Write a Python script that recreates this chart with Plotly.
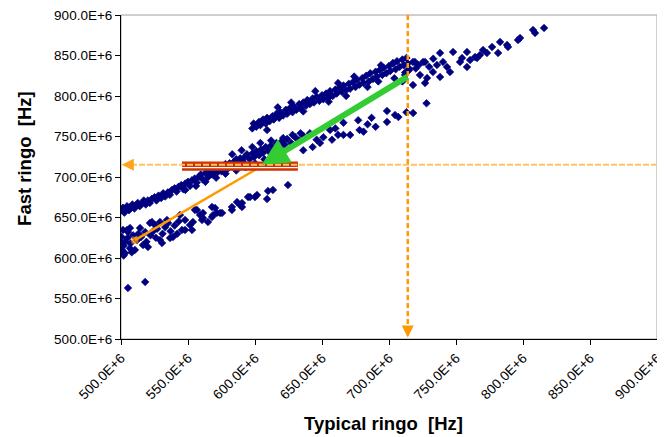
import numpy as np
import plotly.graph_objects as go

# ---------------- data (MHz) ----------------
typical_band_a = [500.5, 501.5, 502.5, 503.5, 504.5, 506, 507, 508.5, 510, 511, 512.5, 514, 515.5, 517, 518.5,
                  520, 521.5, 523, 525, 526.5, 528, 530, 531.5, 533, 535, 536.5, 538, 540, 541.5, 543, 545,
                  546.5, 548, 550, 551.5, 553, 555, 556.5, 558, 559.5, 561, 563, 565, 566.5, 568, 570, 571.5,
                  573, 575, 576.5, 578, 579.5, 581, 583, 584.5, 586, 587.5, 589, 591, 592.5, 594, 596, 598,
                  599.5, 601, 603, 604.5, 606, 608, 610, 612, 614, 616, 618, 620, 622, 624, 627, 630, 633, 636,
                  548, 556, 563, 571, 578, 586, 593, 600, 607, 615,
                  583, 590, 598, 604, 612, 621, 628, 634,
                  636, 641, 643, 646, 648.5, 651, 656, 657.5, 660, 662, 666, 666, 671, 677, 678, 681, 684, 687,
                  690, 698.5, 698.5, 704.5, 707, 713, 718, 728]
fast_band_a = [659, 662, 656, 661, 664, 659, 663, 666, 661, 665, 668, 664, 667, 671, 666,
               671, 668, 673, 675, 671, 677, 674, 680, 676, 681, 678, 684, 686, 682, 688, 690,
               685, 692, 694, 689, 696, 698, 693, 700, 703, 697, 705, 700, 707, 703, 709, 705,
               711, 707, 713, 716, 710, 717, 713, 719, 722, 716, 723, 719, 725, 728, 722, 729,
               725, 732, 727, 734, 730, 737, 732, 739, 735, 742, 737, 744, 740, 747, 742, 749, 745, 751,
               684, 689, 694, 699, 704, 708, 712, 717, 722, 728,
               728, 733, 737, 742, 745, 748, 752, 754,
               733, 754, 737, 746, 742, 749, 758, 746, 760, 752, 752, 767, 752, 770, 758, 756, 765, 773,
               762, 768, 781.5, 776.5, 774, 780, 779, 791]

typical_band_b = [598, 599, 601, 603, 604, 606, 608, 609, 611, 613, 614, 616, 618, 619, 621, 623, 624, 626,
                  628, 629, 631, 633, 634, 636, 638, 639, 641, 643, 644, 646, 648, 650, 651, 653, 655, 656,
                  658, 660, 661, 663, 665, 666, 668, 670, 671, 673, 675, 676, 678, 680, 681, 683, 685, 686,
                  688, 690, 691, 693, 695, 696, 698, 700, 701, 703, 705, 706, 708, 710, 711, 713, 715,
                  617, 627, 645, 655, 662, 674, 684, 694, 704, 712, 609, 636, 668, 692,
                  712, 715, 720, 730, 733, 722, 710, 714,
                  717.9, 719.4, 723.1, 725.4, 726.9, 726.9, 728.4, 703, 717.9, 732.8, 735.8, 738.1, 738.1,
                  740.3, 743.3, 745.5, 747.8, 753, 754.5, 758.2, 758.2, 760.5, 764.2, 765.7, 767.9, 770.2,
                  773.1, 776.9, 781.4, 782.9, 788.1, 788.8, 796.3, 797.8, 807.5, 809, 815.7]
fast_band_b = [760, 766, 762, 768, 764, 771, 766, 773, 769, 775, 771, 778, 773, 780, 776, 783, 778, 785,
               780, 787, 783, 790, 785, 792, 788, 795, 790, 797, 792, 799, 794, 801, 796, 803, 798, 806,
               800, 808, 803, 810, 805, 813, 807, 815, 809, 817, 811, 820, 814, 822, 816, 825, 818, 828,
               821, 830, 824, 832, 826, 835, 828, 837, 831, 840, 833, 843, 836, 845, 838, 847, 834,
               786, 792, 806, 793, 816, 824, 811, 838, 822, 829, 758, 781, 800, 818,
               826, 832, 834, 836, 846, 838, 818, 840,
               813.6, 842, 825.9, 842, 816, 842, 822.2, 840.7, 842, 829.6, 838.3, 853.1, 823.5,
               842, 835.8, 829.6, 854.3, 842, 846.9, 854.3, 835.8, 844.4, 848.1, 846.9, 850.6, 856.8,
               853.1, 860.5, 853.1, 866.7, 863, 860.5, 869.1, 871.6, 881.5, 877.8, 884]

typical_band_c = [500.5, 501.5, 503, 501.5, 504.5, 505.2, 506.7, 506.7, 510.4, 514.2, 516.4, 520.1, 521.6,
                  523.1, 525.4, 529.1, 529.1, 530.6, 534.3, 535.1, 536.6, 538.8, 544, 545.5, 547.8, 547.8,
                  551.5, 553, 553.7, 555.2, 556.7, 559, 560.5, 561.2, 561.2, 564.9, 567.9, 567.9, 568.7,
                  570.2, 571.6, 573.9, 575.4, 582.8, 582.8, 586.6, 588.8, 590.3, 590.3, 594.8, 596.3, 600,
                  601.5, 609, 609.7, 613.4, 624.6,
                  502, 503, 505, 507, 509, 512, 513, 515, 518, 519, 522, 524, 526, 527, 531, 533, 537, 540,
                  542, 543, 500.5, 500.5, 502, 508,
                  505.2, 518]
fast_band_c = [610, 606, 606, 634.6, 634.6, 632, 637, 612, 610, 637, 616, 613.6, 643.2,
               644.4, 640.7, 644.4, 622.2, 618.5, 646.9, 643.2, 624.7, 625.9, 653, 634.6, 646.9, 634.6,
               640.7, 634.6, 644.4, 659.3, 659.3, 653, 646.9, 649.4, 655.6, 644.4, 663, 650.6, 653,
               661.7, 655.6, 655.6, 655.6, 663, 659.3, 669, 665.4, 667.9, 663, 675.3, 675.3, 675.3,
               677.8, 672.8, 682.7, 684, 690.1,
               615, 620, 625, 618, 628, 622, 630, 626, 632, 620, 628, 633, 625, 636, 630, 638, 633, 640,
               630, 645, 618, 626, 603, 607,
               563, 570.4]

trend_typical = [510.4, 605.0]
trend_fast = [622.0, 713.5]

target_typical = 714.0
target_fast = 715.0
arrow_from = (715.0, 825.0)
arrow_to = (605.0, 715.0)
band_typical = (545.5, 632.0)
band_fast = (707.8, 719.1)
band_gap_fast = 711.6

tick_values = [500, 550, 600, 650, 700, 750, 800, 850, 900]
tick_labels = ["500.0E+6", "550.0E+6", "600.0E+6", "650.0E+6", "700.0E+6",
               "750.0E+6", "800.0E+6", "850.0E+6", "900.0E+6"]

M = 1e6
FONT = "Arial, Liberation Sans, sans-serif"
NAVY = "#000080"

fig = go.Figure()
for xs, ys in [(typical_band_a, fast_band_a), (typical_band_b, fast_band_b), (typical_band_c, fast_band_c)]:
    fig.add_trace(go.Scatter(
        x=np.array(xs) * M, y=np.array(ys) * M, mode="markers",
        marker=dict(symbol="diamond", size=5.8, color=NAVY, line=dict(width=0.7, color=NAVY)),
        hoverinfo="skip"))

fig.add_trace(go.Scatter(
    x=np.array(trend_typical) * M, y=np.array(trend_fast) * M, mode="lines+markers",
    line=dict(color="#FF9900", width=2.5),
    marker=dict(symbol="square", size=[7, 0], color="#FF9900", line=dict(width=0)),
    hoverinfo="skip"))

shapes = [
    dict(type="rect", xref="paper", yref="paper", x0=0, x1=1, y0=0, y1=1,
         line=dict(color="#A0A0A0", width=1), layer="below"),
    dict(type="rect", xref="x", yref="y", x0=band_typical[0] * M, x1=band_typical[1] * M,
         y0=band_fast[0] * M, y1=band_fast[1] * M, fillcolor="#CC3300",
         line=dict(width=0), layer="above"),
    dict(type="line", xref="x", yref="y", x0=band_typical[0] * M, x1=band_typical[1] * M,
         y0=band_gap_fast * M, y1=band_gap_fast * M, line=dict(color="#FFFFFF", width=1.3),
         layer="above"),
    dict(type="line", xref="x", yref="y", x0=900 * M, x1=503 * M,
         y0=target_fast * M, y1=target_fast * M,
         line=dict(color="#FFC266", width=2, dash="6px,2px"), layer="above"),
    dict(type="line", xref="x", yref="y", x0=target_typical * M, x1=target_typical * M,
         y0=900 * M, y1=504 * M,
         line=dict(color="#FF9900", width=2.5, dash="5px,3px"), layer="above"),
]

annotations = [
    dict(x=arrow_to[0] * M, y=arrow_to[1] * M, ax=arrow_from[0] * M, ay=arrow_from[1] * M,
         xref="x", yref="y", axref="x", ayref="y", text="", showarrow=True,
         arrowhead=2, arrowsize=0.9, arrowwidth=6, arrowcolor="#33CC33"),
    dict(x=target_typical * M, y=502 * M, xref="x", yref="y", ax=0, ay=-13, text="",
         showarrow=True, arrowhead=2, arrowsize=1.2, arrowwidth=2, arrowcolor="#FF9900"),
    dict(x=500.6 * M, y=target_fast * M, xref="x", yref="y", ax=13, ay=0, text="",
         showarrow=True, arrowhead=2, arrowsize=1.2, arrowwidth=2, arrowcolor="#FFA31A"),
    dict(text="<b>Typical ringo\u00a0 [Hz]</b>", xref="paper", yref="paper", x=0.49, y=-0.262,
         xanchor="center", yanchor="middle", showarrow=False,
         font=dict(family=FONT, size=18.5, color="#000000")),
    dict(text="<b>Fast ringo\u00a0 [Hz]</b>", xref="paper", yref="paper", x=-0.179, y=0.556,
         xanchor="center", yanchor="middle", showarrow=False, textangle=-90,
         font=dict(family=FONT, size=18.5, color="#000000")),
]

axis_common = dict(
    range=[500 * M, 900 * M], tickvals=[v * M for v in tick_values], ticktext=tick_labels,
    showgrid=False, zeroline=False, showline=True, linecolor="#000000", linewidth=1,
    ticks="outside", ticklen=5, tickcolor="#000000", tickwidth=1, automargin=False,
    ticklabeloverflow="allow",
    tickfont=dict(family=FONT, size=13.5, color="#000000"), fixedrange=True)

# the page body adds an 8px offset, so the figure is sized 8px smaller and shifted margins
fig.update_layout(
    width=657, height=429,
    margin=dict(l=113, r=8, t=7, b=98, autoexpand=False),
    paper_bgcolor="#FFFFFF", plot_bgcolor="#FFFFFF",
    showlegend=False,
    xaxis=dict(axis_common, tickangle=-45),
    yaxis=dict(axis_common),
    shapes=shapes, annotations=annotations,
)

fig.write_html("out.html")
